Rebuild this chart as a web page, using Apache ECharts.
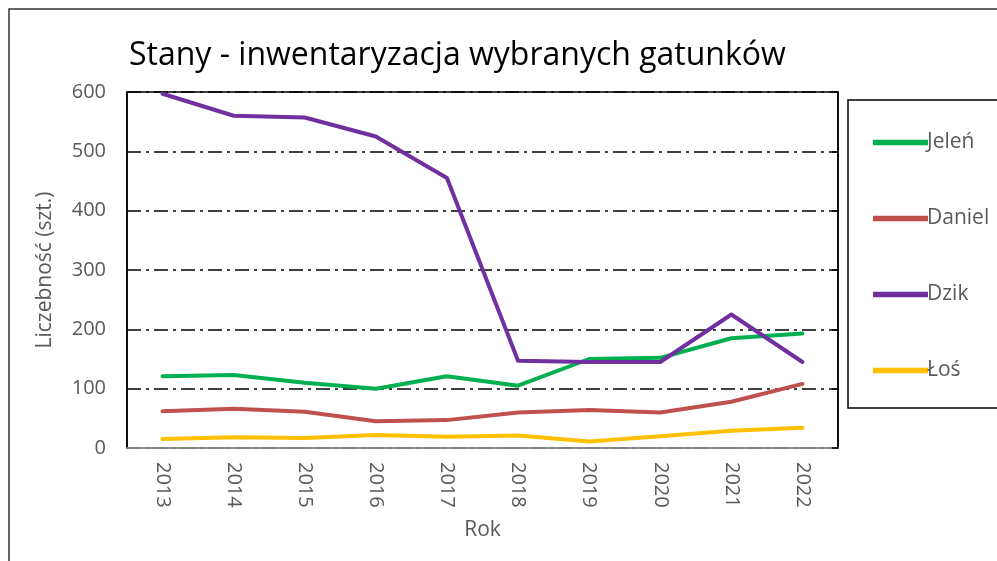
<!DOCTYPE html>
<html>
<head>
<meta charset="utf-8">
<script src="https://cdn.jsdelivr.net/npm/echarts@6/dist/echarts.min.js"></script>
<style>
  html, body { margin: 0; padding: 0; background: #fff; }
  #chart { width: 997px; height: 561px; }
</style>
</head>
<body>
<div id="chart"></div>
<script>
// lata i stany z inwentaryzacji
var years = ['2013', '2014', '2015', '2016', '2017', '2018', '2019', '2020', '2021', '2022'];
var jelen = [121, 123, 110, 100, 121, 105, 150, 152, 185, 193];
var daniel = [62, 66, 61, 45, 47, 60, 64, 60, 78, 108];
var dzik = [597, 560, 557, 525, 455, 147, 145, 145, 225, 145];
var los = [15, 18, 17, 22, 19, 21, 11, 20, 29, 34];
var yTicks = [0, 100, 200, 300, 400, 500, 600];

var font = 'Open Sans';
var grey = '#595959';
var chart = echarts.init(document.getElementById('chart'));

function serie(name, data, color) {
  return {
    name: name,
    type: 'line',
    data: data,
    symbol: 'none',
    lineStyle: { width: 4, color: color, cap: 'round', join: 'round' },
    itemStyle: { color: color }
  };
}

chart.setOption({
  animation: false,
  title: {
    text: 'Stany - inwentaryzacja wybranych gatunków',
    left: 124,
    top: 35,
    textStyle: { fontFamily: font, fontSize: 32, fontWeight: 'normal', color: '#000' }
  },
  graphic: [
    // ramka wykresu
    { type: 'rect', shape: { x: 9, y: 9, width: 1000, height: 600 },
      style: { fill: 'none', stroke: '#333', lineWidth: 1.5 } },
    // ramka legendy
    { type: 'rect', shape: { x: 848, y: 100, width: 160, height: 308 },
      style: { fill: '#fff', stroke: '#000', lineWidth: 1.5 }, z: 0 }
  ],
  legend: {
    orient: 'vertical',
    left: 868,
    top: 127,
    itemGap: 55,
    itemWidth: 55,
    itemHeight: 8,
    icon: 'path://M0,0 L10,0 L10,1 L0,1 Z',
    textStyle: { fontFamily: font, fontSize: 21, color: grey, padding: [0, 0, 0, -6] },
    data: ['Jeleń', 'Daniel', 'Dzik', 'Łoś'],
    z: 5
  },
  grid: {
    left: 127, right: 159, top: 92, bottom: 113,
    show: true, borderColor: '#000', borderWidth: 1.5
  },
  xAxis: {
    type: 'category',
    data: years,
    boundaryGap: true,
    name: 'Rok',
    nameLocation: 'middle',
    nameGap: 72,
    nameTextStyle: { fontFamily: font, fontSize: 21, color: grey },
    axisLine: { lineStyle: { color: '#a6a6a6', width: 1.5 } },
    axisTick: { show: false },
    axisLabel: { rotate: -90, fontFamily: font, fontSize: 20, color: grey, margin: 14 }
  },
  yAxis: [{
    type: 'value',
    min: 0, max: 600, interval: 100,
    name: 'Liczebność (szt.)',
    nameLocation: 'middle',
    nameGap: 71,
    nameTextStyle: { fontFamily: font, fontSize: 21, color: grey },
    axisLine: { show: true, lineStyle: { color: '#000', width: 1.5 } },
    axisTick: { show: false },
    axisLabel: {
      fontFamily: font, fontSize: 20, color: grey, margin: 21,
      formatter: function (v) { return yTicks.indexOf(v) >= 0 ? String(v) : ''; }
    },
    splitLine: { lineStyle: { color: '#000', width: 1.5, type: [14, 5, 3, 5] } }
  }, {
    type: 'value',
    position: 'right',
    min: 0, max: 600, interval: 100,
    axisLine: { show: true, lineStyle: { color: '#000', width: 1.5 } },
    axisTick: { show: true, inside: true, length: 6, lineStyle: { color: '#000', width: 1.5 } },
    axisLabel: { show: false },
    splitLine: { show: false }
  }],
  series: [
    serie('Jeleń', jelen, '#00b050'),
    serie('Daniel', daniel, '#c0504d'),
    serie('Dzik', dzik, '#7030a0'),
    serie('Łoś', los, '#ffc000')
  ]
});
</script>
</body>
</html>
